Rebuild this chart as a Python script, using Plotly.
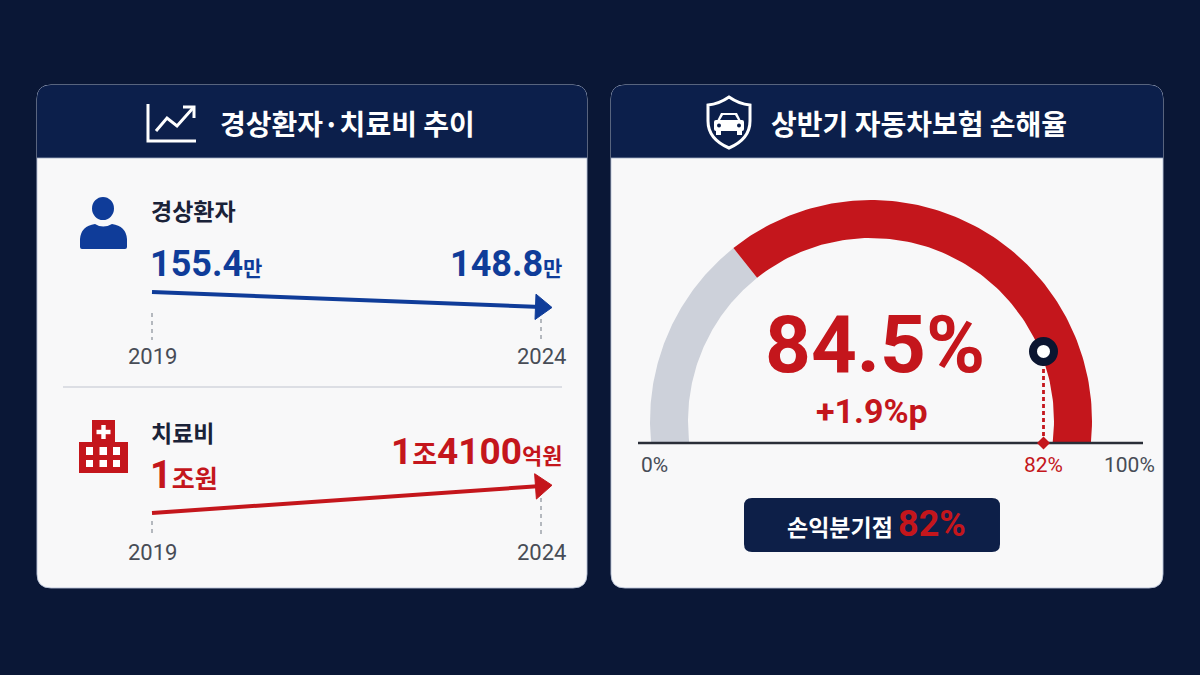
import math
import numpy as np
import plotly.graph_objects as go

W, H = 1200, 675

# ---------------- data ----------------
years = [2019, 2024]
year_labels = ["2019", "2024"]
patients = [155.4, 148.8]            # 경상환자 (만 명)
patient_text = ["155.4", "148.8"]
patient_unit = "만"
costs = [1.0, 1.41]                  # 치료비 (조원)
cost_main = ["1", "1조4100"]
cost_unit = ["조원", "억원"]
panel_titles = ["경상환자·치료비 추이", "상반기 자동차보험 손해율"]
row_titles = ["경상환자", "치료비"]
loss_ratio = 84.5                    # %
loss_ratio_change = 1.9              # %p
breakeven = 82                       # %
gauge_ticks = [0, 82, 100]
gauge_tick_text = ["0%", "82%", "100%"]
breakeven_label = "손익분기점"

# ---------------- style ----------------
FONT = "Noto Sans CJK KR"
NUM = "Roboto, Noto Sans CJK KR"
BG = "#0a1736"
HEADER = "#0c1f4b"
PANEL = "#f8f8f9"
BLUE = "#0f3c99"
RED = "#c4161c"
DARK = "#1a2238"
GRAY_TXT = "#474c56"
ARC_GRAY = "#cdd1da"
DASH_GRAY = "#a3a8b0"
WHITE = "#ffffff"


def fx(x):
    return x / W


def fy(y):
    return 1 - y / H


def P(x, y):
    return f"{fx(x):.5f},{fy(y):.5f}"


def rpath(x0, y0, x1, y1, rt, rb):
    return (f"M{P(x0 + rt, y0)} L{P(x1 - rt, y0)} Q{P(x1, y0)} {P(x1, y0 + rt)} "
            f"L{P(x1, y1 - rb)} Q{P(x1, y1)} {P(x1 - rb, y1)} L{P(x0 + rb, y1)} "
            f"Q{P(x0, y1)} {P(x0, y1 - rb)} L{P(x0, y0 + rt)} Q{P(x0, y0)} {P(x0 + rt, y0)} Z")


def poly(points):
    return "M" + " L".join(P(x, y) for x, y in points) + " Z"


shapes = []
annotations = []

# ---------------- panels ----------------
for (x0, x1) in [(37, 587), (611, 1163)]:
    shapes.append(dict(type="path", xref="paper", yref="paper", path=rpath(x0, 85, x1, 588, 14, 14),
                       fillcolor=PANEL, line=dict(color="rgba(185,195,215,0.9)", width=1), layer="below"))
    shapes.append(dict(type="path", xref="paper", yref="paper", path=rpath(x0, 85, x1, 158, 14, 0),
                       fillcolor=HEADER, line=dict(width=0), layer="below"))
    shapes.append(dict(type="line", xref="paper", yref="paper", x0=fx(x0), x1=fx(x1), y0=fy(158), y1=fy(158),
                       line=dict(color="rgba(160,172,195,0.8)", width=1), layer="below"))

# separator in left panel
shapes.append(dict(type="line", xref="paper", yref="paper", x0=fx(63), x1=fx(562), y0=fy(387), y1=fy(387),
                   line=dict(color="#d3d6dc", width=1.5), layer="below"))

# ---------------- icons ----------------
# trend icon
shapes.append(dict(type="path", xref="paper", yref="paper",
                   path=f"M{P(148, 104)} L{P(148, 141)} L{P(196, 141)}",
                   line=dict(color=WHITE, width=3)))
shapes.append(dict(type="path", xref="paper", yref="paper",
                   path=f"M{P(156, 131)} L{P(167, 118)} L{P(177, 126)} L{P(193, 108)}",
                   line=dict(color=WHITE, width=3)))
shapes.append(dict(type="path", xref="paper", yref="paper",
                   path=f"M{P(183, 107)} L{P(194, 107)} L{P(194, 118)}",
                   line=dict(color=WHITE, width=3)))
# shield icon
shapes.append(dict(type="path", xref="paper", yref="paper",
                   path=(f"M{P(729, 97)} Q{P(739, 104)} {P(750, 105)} L{P(750, 121)} "
                         f"Q{P(750, 139)} {P(729, 148)} Q{P(708, 139)} {P(708, 121)} "
                         f"L{P(708, 105)} Q{P(719, 104)} {P(729, 97)} Z"),
                   line=dict(color=WHITE, width=3)))
shapes.append(dict(type="path", xref="paper", yref="paper",
                   path=poly([(721, 113), (737, 113), (741, 121), (717, 121)]),
                   fillcolor=WHITE, line=dict(width=0)))
shapes.append(dict(type="path", xref="paper", yref="paper", path=rpath(714, 120, 744, 131, 2, 2),
                   fillcolor=WHITE, line=dict(width=0)))
for wx in (716, 737):
    shapes.append(dict(type="rect", xref="paper", yref="paper", x0=fx(wx), x1=fx(wx + 5), y0=fy(135), y1=fy(130),
                       fillcolor=WHITE, line=dict(width=0)))
for hx in (719, 739):
    shapes.append(dict(type="circle", xref="paper", yref="paper", x0=fx(hx - 2), x1=fx(hx + 2),
                       y0=fy(127.5), y1=fy(123.5), fillcolor=HEADER, line=dict(width=0)))
shapes.append(dict(type="path", xref="paper", yref="paper", path=poly([(723, 115), (735, 115), (738, 120), (720, 120)]),
                   fillcolor=HEADER, line=dict(width=0)))
# person icon
shapes.append(dict(type="circle", xref="paper", yref="paper", x0=fx(92), x1=fx(114), y0=fy(220), y1=fy(197),
                   fillcolor=BLUE, line=dict(width=0)))
shapes.append(dict(type="path", xref="paper", yref="paper",
                   path=(f"M{P(80, 247)} L{P(80, 239)} Q{P(81, 226)} {P(95, 224)} Q{P(103, 229)} {P(112, 224)} "
                         f"Q{P(126, 226)} {P(127, 239)} L{P(127, 247)} Q{P(127, 249)} {P(125, 249)} "
                         f"L{P(82, 249)} Q{P(80, 249)} {P(80, 247)} Z"),
                   fillcolor=BLUE, line=dict(width=0)))
# hospital icon
shapes.append(dict(type="rect", xref="paper", yref="paper", x0=fx(92), x1=fx(115), y0=fy(443), y1=fy(420),
                   fillcolor=RED, line=dict(width=0)))
shapes.append(dict(type="rect", xref="paper", yref="paper", x0=fx(79), x1=fx(128), y0=fy(473), y1=fy(442),
                   fillcolor=RED, line=dict(width=0)))
shapes.append(dict(type="rect", xref="paper", yref="paper", x0=fx(101.3), x1=fx(105.7), y0=fy(439), y1=fy(425),
                   fillcolor=WHITE, line=dict(width=0)))
shapes.append(dict(type="rect", xref="paper", yref="paper", x0=fx(96.5), x1=fx(110.5), y0=fy(434.2), y1=fy(429.8),
                   fillcolor=WHITE, line=dict(width=0)))
for (wy0, wy1) in [(447, 455), (460, 467)]:
    for (wx0, wx1) in [(86, 93), (99.5, 107), (113, 120)]:
        shapes.append(dict(type="rect", xref="paper", yref="paper", x0=fx(wx0), x1=fx(wx1), y0=fy(wy1), y1=fy(wy0),
                           fillcolor=WHITE, line=dict(width=0)))

# ---------------- headers / titles ----------------
annotations.append(dict(xref="paper", yref="paper", x=fx(218), y=fy(123), xanchor="left", yanchor="middle",
                        text=panel_titles[0], showarrow=False,
                        font=dict(family=FONT, size=28, color=WHITE, weight=700)))
annotations.append(dict(xref="paper", yref="paper", x=fx(769), y=fy(123), xanchor="left", yanchor="middle",
                        text=panel_titles[1], showarrow=False,
                        font=dict(family=FONT, size=28, color=WHITE, weight=700)))

# row titles
annotations.append(dict(xref="paper", yref="paper", x=fx(149), y=fy(210), xanchor="left", yanchor="middle",
                        text=row_titles[0], showarrow=False, font=dict(family=FONT, size=23, color=DARK, weight=700)))
annotations.append(dict(xref="paper", yref="paper", x=fx(149), y=fy(432), xanchor="left", yanchor="middle",
                        text=row_titles[1], showarrow=False, font=dict(family=FONT, size=23, color=DARK, weight=700)))

# value labels
annotations.append(dict(xref="paper", yref="paper", x=fx(148), y=fy(264), xanchor="left", yanchor="middle",
                        text=f"{patient_text[0]}<span style='font-size:21px'>{patient_unit}</span>",
                        showarrow=False, font=dict(family=NUM, size=36, color=BLUE, weight=700)))
annotations.append(dict(xref="paper", yref="paper", x=fx(564), y=fy(264), xanchor="right", yanchor="middle",
                        text=f"{patient_text[1]}<span style='font-size:21px'>{patient_unit}</span>",
                        showarrow=False, font=dict(family=NUM, size=36, color=BLUE, weight=700)))
annotations.append(dict(xref="paper", yref="paper", x=fx(148), y=fy(475), xanchor="left", yanchor="middle",
                        text=f"{cost_main[0]}<span style='font-size:25px'>{cost_unit[0]}</span>",
                        showarrow=False, font=dict(family=NUM, size=38, color=RED, weight=700)))
big2 = cost_main[1]
annotations.append(dict(xref="paper", yref="paper", x=fx(564), y=fy(451), xanchor="right", yanchor="middle",
                        text=(f"{big2[0]}<span style='font-size:27px'>{big2[1]}</span>{big2[2:]}"
                              f"<span style='font-size:22px'>{cost_unit[1]}</span>"),
                        showarrow=False, font=dict(family=NUM, size=37, color=RED, weight=700)))

# ---------------- mini trend charts ----------------
X0PX, X1PX = 152, 541
ppu_x = (X1PX - X0PX) / (years[1] - years[0])
xr = [years[0] + (120 - X0PX) / ppu_x, years[0] + (580 - X0PX) / ppu_x]

fig = go.Figure()

for vals, col, xa, ya in [(patients, BLUE, "x", "y"), (costs, RED, "x2", "y2")]:
    fig.add_trace(go.Scatter(x=years, y=vals, mode="lines", xaxis=xa, yaxis=ya,
                             line=dict(color=col, width=4), hoverinfo="skip", showlegend=False))
    fig.add_trace(go.Scatter(x=years, y=vals, mode="markers", xaxis=xa, yaxis=ya,
                             marker=dict(symbol=["circle", "triangle-up"], size=[13, 22], color=col,
                                         opacity=1, angleref="previous", line=dict(width=1, color=col)),
                             hoverinfo="skip", showlegend=False))

for i, yr in enumerate(years):
    shapes.append(dict(type="line", xref="x", yref="paper", x0=yr, x1=yr,
                       y0=fy([313, 319][i]), y1=fy(340), line=dict(color=DASH_GRAY, width=1.6, dash="4px,4px")))
    shapes.append(dict(type="line", xref="x2", yref="paper", x0=yr, x1=yr,
                       y0=fy([521, 498][i]), y1=fy(536), line=dict(color=DASH_GRAY, width=1.6, dash="4px,4px")))
    annotations.append(dict(xref="x", yref="paper", x=yr, y=fy(356), text=year_labels[i], showarrow=False,
                            xanchor="center", yanchor="middle",
                            font=dict(family=NUM, size=22, color=GRAY_TXT)))
    annotations.append(dict(xref="x2", yref="paper", x=yr, y=fy(552), text=year_labels[i], showarrow=False,
                            xanchor="center", yanchor="middle",
                            font=dict(family=NUM, size=22, color=GRAY_TXT)))

# ---------------- gauge ----------------
G0 = 654.0      # px of 0 %
GS = 4.75       # px per %
GB = 443.0      # baseline px


def gx(p):
    return (p - G0) / GS


def gy(p):
    return (GB - p) / GS


cx, cy = gx(871), gy(421)
R_out, R_in = 221 / GS, 183 / GS
split = 128.5
end_out = math.degrees(math.asin(-cy / R_out))
end_in = math.degrees(math.asin(-cy / R_in))


def band(a_out0, a_out1, a_in1, a_in0, n=120):
    ao = np.radians(np.linspace(a_out0, a_out1, n))
    ai = np.radians(np.linspace(a_in1, a_in0, n))
    xs = np.concatenate([cx + R_out * np.cos(ao), cx + R_in * np.cos(ai)])
    ys = np.concatenate([cy + R_out * np.sin(ao), cy + R_in * np.sin(ai)])
    return np.append(xs, xs[0]), np.append(ys, ys[0])


gxs, gys = band(180 - end_out, split, split, 180 - end_in)
fig.add_trace(go.Scatter(x=gxs, y=gys, mode="lines", fill="toself", fillcolor=ARC_GRAY,
                         line=dict(width=0, color=ARC_GRAY), xaxis="x3", yaxis="y3",
                         hoverinfo="skip", showlegend=False))
rxs, rys = band(split, end_out, end_in, split)
fig.add_trace(go.Scatter(x=rxs, y=rys, mode="lines", fill="toself", fillcolor=RED,
                         line=dict(width=0, color=RED), xaxis="x3", yaxis="y3",
                         hoverinfo="skip", showlegend=False))

fig.add_trace(go.Scatter(x=[gx(638), gx(1143)], y=[0, 0], mode="lines",
                         line=dict(color="#2a2e38", width=2.5), xaxis="x3", yaxis="y3",
                         hoverinfo="skip", showlegend=False))

R_m = (183 + 3) / GS
marker_y = cy + math.sqrt(R_m ** 2 - (breakeven - cx) ** 2)
fig.add_trace(go.Scatter(x=[breakeven, breakeven], y=[0, marker_y], mode="lines",
                         line=dict(color=RED, width=2.8, dash="4px,3px"), xaxis="x3", yaxis="y3",
                         hoverinfo="skip", showlegend=False))
fig.add_trace(go.Scatter(x=[breakeven], y=[0], mode="markers",
                         marker=dict(symbol="diamond", size=10, color=RED), xaxis="x3", yaxis="y3",
                         hoverinfo="skip", showlegend=False))
fig.add_trace(go.Scatter(x=[breakeven], y=[marker_y], mode="markers",
                         marker=dict(symbol="circle", size=21, color=WHITE, line=dict(color="#0b1530", width=8)),
                         xaxis="x3", yaxis="y3", hoverinfo="skip", showlegend=False))

for v, t in zip(gauge_ticks, gauge_tick_text):
    annotations.append(dict(xref="x3", yref="y3", x=v, y=gy(465), text=t, showarrow=False,
                            xanchor="center", yanchor="middle",
                            font=dict(family=NUM, size=21, color=RED if v == breakeven else GRAY_TXT)))

annotations.append(dict(xref="x3", yref="y3", x=gx(875), y=gy(345), text=f"{loss_ratio}%", showarrow=False,
                        xanchor="center", yanchor="middle",
                        font=dict(family=NUM, size=80, color=RED, weight=700)))
annotations.append(dict(xref="x3", yref="y3", x=gx(872), y=gy(411), text=f"+{loss_ratio_change}%p",
                        showarrow=False, xanchor="center", yanchor="middle",
                        font=dict(family=NUM, size=34, color=RED, weight=700)))

# breakeven box
shapes.append(dict(type="path", xref="paper", yref="paper", path=rpath(744, 498, 1000, 552, 8, 8),
                   fillcolor="#0d1f48", line=dict(width=0)))
annotations.append(dict(xref="paper", yref="paper", x=fx(876), y=fy(524), xanchor="center", yanchor="middle",
                        text=(f"{breakeven_label} <span style='color:{RED};font-family:Roboto;font-size:36px'>"
                              f"{breakeven}%</span>"),
                        showarrow=False, font=dict(family=FONT, size=23, color=WHITE, weight=700)))

# ---------------- layout ----------------
ax_common = dict(visible=False, fixedrange=True, showgrid=False, zeroline=False)
fig.update_layout(
    width=W, height=H,
    margin=dict(l=0, r=0, t=0, b=0),
    paper_bgcolor=BG, plot_bgcolor="rgba(0,0,0,0)",
    showlegend=False,
    font=dict(family=FONT),
    xaxis=dict(domain=[fx(120), fx(580)], range=xr, anchor="y", **ax_common),
    yaxis=dict(domain=[fy(335), fy(265)], range=[136.5, 167.3], anchor="x", **ax_common),
    xaxis2=dict(domain=[fx(120), fx(580)], range=xr, anchor="y2", **ax_common),
    yaxis2=dict(domain=[fy(545), fy(465)], range=[0.514, 1.729], anchor="x2", **ax_common),
    xaxis3=dict(domain=[fx(630), fx(1150)], range=[gx(630), gx(1150)], anchor="y3", **ax_common),
    yaxis3=dict(domain=[fy(490), fy(175)], range=[gy(490), gy(175)], anchor="x3", **ax_common),
    shapes=shapes,
    annotations=annotations,
)

fig.write_html("out.html", config=dict(displayModeBar=False),
               post_script=["document.body.style.margin='0px';document.body.style.background='#0a1736';"])
